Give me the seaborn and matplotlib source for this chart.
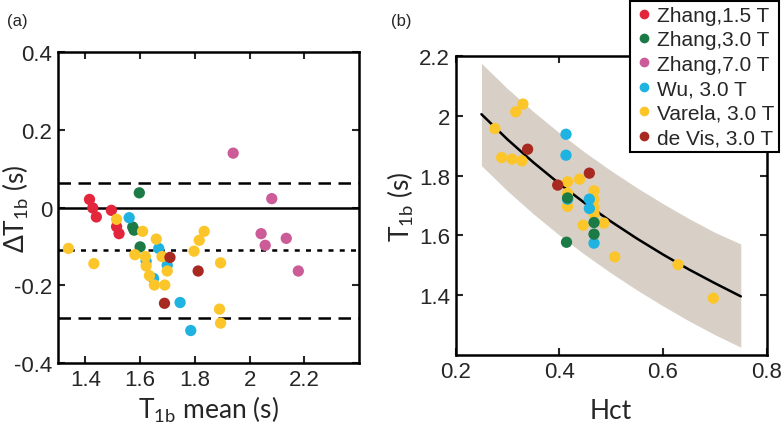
import pandas as pd
import numpy as np
import matplotlib.pyplot as plt
import seaborn as sns

# ---- data ----
studies = ["Zhang,1.5 T", "Zhang,3.0 T", "Zhang,7.0 T", "Wu, 3.0 T", "Varela, 3.0 T", "de Vis, 3.0 T"]
colors = ["#e3263b", "#1b7a45", "#cc5c97", "#1fb3e2", "#fcc62a", "#a8291f"]

# panel (a): Bland-Altman, mean vs difference
ba_zhang15_x = [1.415, 1.427, 1.440, 1.495, 1.514, 1.523]
ba_zhang15_y = [0.021, -0.001, -0.024, -0.007, -0.049, -0.067]
ba_zhang30_x = [1.597, 1.573, 1.578, 1.600]
ba_zhang30_y = [0.038, -0.050, -0.058, -0.101]
ba_zhang70_x = [1.940, 2.081, 2.042, 2.057, 2.134, 2.178]
ba_zhang70_y = [0.140, 0.023, -0.067, -0.097, -0.079, -0.163]
ba_wu_x = [1.560, 1.668, 1.699, 1.622, 1.649, 1.746, 1.785]
ba_wu_y = [-0.026, -0.105, -0.148, -0.138, -0.182, -0.244, -0.316]
ba_varela_x = [1.338, 1.431, 1.514, 1.609, 1.581, 1.619, 1.622, 1.634, 1.652, 1.659,
               1.680, 1.699, 1.690, 1.797, 1.816, 1.834, 1.894, 1.890, 1.894]
ba_varela_y = [-0.105, -0.144, -0.030, -0.061, -0.121, -0.126, -0.150, -0.175, -0.199, -0.081,
               -0.126, -0.163, -0.199, -0.112, -0.084, -0.061, -0.142, -0.261, -0.297]
ba_devis_x = [1.709, 1.812, 1.689]
ba_devis_y = [-0.128, -0.163, -0.246]

ba_mean = -0.110
ba_loa = [0.064, -0.284]

# panel (b): T1b vs Hct
hct_zhang30 = [0.416, 0.414, 0.467, 0.467]
t1_zhang30 = [1.725, 1.577, 1.643, 1.604]
hct_wu = [0.413, 0.413, 0.416, 0.458, 0.458, 0.467]
t1_wu = [1.938, 1.868, 1.721, 1.721, 1.690, 1.574]
hct_varela = [0.276, 0.289, 0.309, 0.328, 0.316, 0.330, 0.416, 0.439, 0.416, 0.416,
              0.467, 0.467, 0.467, 0.467, 0.446, 0.486, 0.507, 0.629, 0.697]
t1_varela = [1.957, 1.860, 1.855, 1.849, 2.013, 2.039, 1.779, 1.788, 1.741, 1.697,
             1.749, 1.721, 1.694, 1.671, 1.634, 1.641, 1.528, 1.502, 1.390]
hct_devis = [0.339, 0.458, 0.397]
t1_devis = [1.888, 1.808, 1.768]

fit_hct = [0.25, 0.30, 0.35, 0.40, 0.45, 0.50, 0.55, 0.60, 0.65, 0.70, 0.75]
fit_t1 = [2.005, 1.921, 1.844, 1.773, 1.707, 1.646, 1.589, 1.536, 1.486, 1.440, 1.396]
fit_upper = [2.175, 2.091, 2.014, 1.943, 1.877, 1.816, 1.759, 1.706, 1.656, 1.610, 1.571]
fit_lower = [1.833, 1.749, 1.672, 1.601, 1.535, 1.474, 1.417, 1.364, 1.314, 1.268, 1.226]

# ---- build tables ----
ba = pd.concat([
    pd.DataFrame({"mean": ba_zhang15_x, "diff": ba_zhang15_y, "study": studies[0]}),
    pd.DataFrame({"mean": ba_zhang30_x, "diff": ba_zhang30_y, "study": studies[1]}),
    pd.DataFrame({"mean": ba_zhang70_x, "diff": ba_zhang70_y, "study": studies[2]}),
    pd.DataFrame({"mean": ba_wu_x, "diff": ba_wu_y, "study": studies[3]}),
    pd.DataFrame({"mean": ba_varela_x, "diff": ba_varela_y, "study": studies[4]}),
    pd.DataFrame({"mean": ba_devis_x, "diff": ba_devis_y, "study": studies[5]}),
], ignore_index=True)

hct = pd.concat([
    pd.DataFrame({"hct": hct_varela, "t1": t1_varela, "study": studies[4]}),
    pd.DataFrame({"hct": hct_wu, "t1": t1_wu, "study": studies[3]}),
    pd.DataFrame({"hct": hct_zhang30, "t1": t1_zhang30, "study": studies[1]}),
    pd.DataFrame({"hct": hct_devis, "t1": t1_devis, "study": studies[5]}),
], ignore_index=True)

palette = dict(zip(studies, colors))

sns.set_style("white")
plt.rcParams["font.family"] = ["Liberation Sans", "DejaVu Sans"]
plt.rcParams["mathtext.fontset"] = "custom"
plt.rcParams["mathtext.rm"] = "Lato"

fig = plt.figure(figsize=(7.84, 4.31), dpi=100)
ax1 = fig.add_axes([0.074, 0.155, 0.384, 0.722])
ax2 = fig.add_axes([0.581, 0.174, 0.397, 0.694])

label_font = dict(family=["Lato", "DejaVu Sans"], fontsize=19)


def style_axes(ax):
    for sp in ax.spines.values():
        sp.set_linewidth(1.8)
        sp.set_color("black")
    ax.tick_params(direction="in", length=5, width=1.5, labelsize=16,
                   top=True, right=True, bottom=True, left=True, pad=4)


# panel (a)
ax1.axhline(0, color="black", lw=1.8, zorder=1)
ax1.axhline(ba_mean, color="black", lw=1.8, ls=(0, (2, 2.5)), zorder=1)
for v in ba_loa:
    ax1.axhline(v, color="black", lw=1.8, ls=(0, (5, 3)), zorder=1)
sns.scatterplot(data=ba, x="mean", y="diff", hue="study", palette=palette,
                s=66, linewidth=0, legend=False, ax=ax1, zorder=3)
ax1.set_xlim(1.3, 2.4)
ax1.set_ylim(-0.4, 0.4)
ax1.set_xticks([1.4, 1.6, 1.8, 2.0, 2.2])
ax1.set_xticklabels(["1.4", "1.6", "1.8", "2", "2.2"])
ax1.set_yticks([-0.4, -0.2, 0, 0.2, 0.4])
ax1.set_yticklabels(["-0.4", "-0.2", "0", "0.2", "0.4"])
ax1.set_xlabel(r"T$_{\mathregular{1b}}$ mean (s)", va="center", **label_font)
ax1.set_ylabel(r"ΔT$_{\mathregular{1b}}$ (s)", va="center", **label_font)
ax1.xaxis.set_label_coords(0.5, -0.148)
ax1.yaxis.set_label_coords(-0.14, 0.5)
style_axes(ax1)

# panel (b)
ax2.fill_between(fit_hct, fit_lower, fit_upper, color="#d8cfc6", lw=0, zorder=1)
ax2.plot(fit_hct, fit_t1, color="black", lw=1.8, zorder=2)
sns.scatterplot(data=hct, x="hct", y="t1", hue="study", palette=palette,
                s=66, linewidth=0, legend=False, ax=ax2, zorder=3)
ax2.set_xlim(0.2, 0.8)
ax2.set_ylim(1.2, 2.2)
ax2.set_xticks([0.2, 0.4, 0.6, 0.8])
ax2.set_xticklabels(["0.2", "0.4", "0.6", "0.8"])
ax2.set_yticks([1.4, 1.6, 1.8, 2.0, 2.2])
ax2.set_yticklabels(["1.4", "1.6", "1.8", "2", "2.2"])
ax2.set_xlabel("Hct", va="center", **label_font)
ax2.set_ylabel(r"T$_{\mathregular{1b}}$ (s)", va="center", **label_font)
ax2.xaxis.set_label_coords(0.5, -0.187)
ax2.yaxis.set_label_coords(-0.177, 0.5)
style_axes(ax2)

handles = [plt.Line2D([], [], ls="", marker="o", ms=7, color=c, mec="none") for c in colors]
leg = fig.legend(handles, studies, loc="upper right", bbox_to_anchor=(0.994, 0.996),
                 fontsize=15, frameon=True, fancybox=False, framealpha=1,
                 edgecolor="black", handletextpad=0.15, handlelength=0.9,
                 labelspacing=0.26, borderpad=0.25, borderaxespad=0)
leg.get_frame().set_linewidth(1.5)

fig.text(0.009, 0.95, "(a)", fontsize=12, va="center")
fig.text(0.499, 0.95, "(b)", fontsize=12, va="center")

fig.savefig("out.png", dpi=100)
plt.close(fig)
